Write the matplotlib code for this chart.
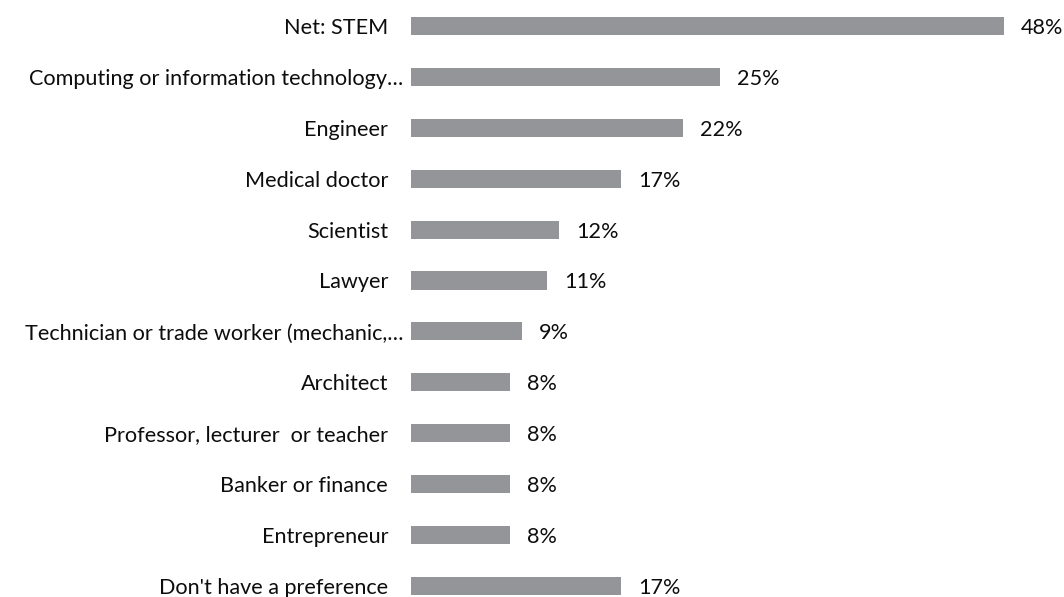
import matplotlib
matplotlib.use("Agg")
import matplotlib.pyplot as plt

categories = [
    "Net: STEM",
    "Computing or information technology…",
    "Engineer",
    "Medical doctor",
    "Scientist",
    "Lawyer",
    "Technician or trade worker (mechanic,…",
    "Architect",
    "Professor, lecturer  or teacher",
    "Banker or finance",
    "Entrepreneur",
    "Don't have a preference",
]
values = [48, 25, 22, 17, 12, 11, 9, 8, 8, 8, 8, 17]
value_labels = ["48%", "25%", "22%", "17%", "12%", "11%", "9%", "8%", "8%", "8%", "8%", "17%"]

plt.rcParams['font.family'] = ['Lato', 'DejaVu Sans']

W, H = 1064, 597
fig = plt.figure(figsize=(W/100, H/100), dpi=100)
left_px, right_px = 411, 1004
top_px = 0.5
row_h = 50.9
first_c = 26
last_c = first_c + 11*row_h
ylo = 11 + (H - last_c)/row_h
ax = fig.add_axes([left_px/W, 0, (right_px-left_px)/W, (H-top_px)/H])
ax.barh(range(len(values)), values, height=0.355, color="#939598", left=0)
ax.set_xlim(0, 48)
ax.set_ylim(ylo, -0.5)
for s in ax.spines.values():
    s.set_visible(False)
ax.set_xticks([])
ax.set_yticks([])
fs = 15.6
for i, (cat, v, lab) in enumerate(zip(categories, values, value_labels)):
    off = -8 if cat.endswith("…") else -23
    ax.annotate(cat, xy=(0, i), xytext=(off, -2), textcoords="offset pixels",
                ha="right", va="center", fontsize=fs, color="#0d0d0d", annotation_clip=False)
    ax.annotate(lab, xy=(v, i), xytext=(17, -2), textcoords="offset pixels",
                ha="left", va="center", fontsize=fs, color="#0d0d0d", annotation_clip=False)
fig.savefig("out.png", dpi=100)
